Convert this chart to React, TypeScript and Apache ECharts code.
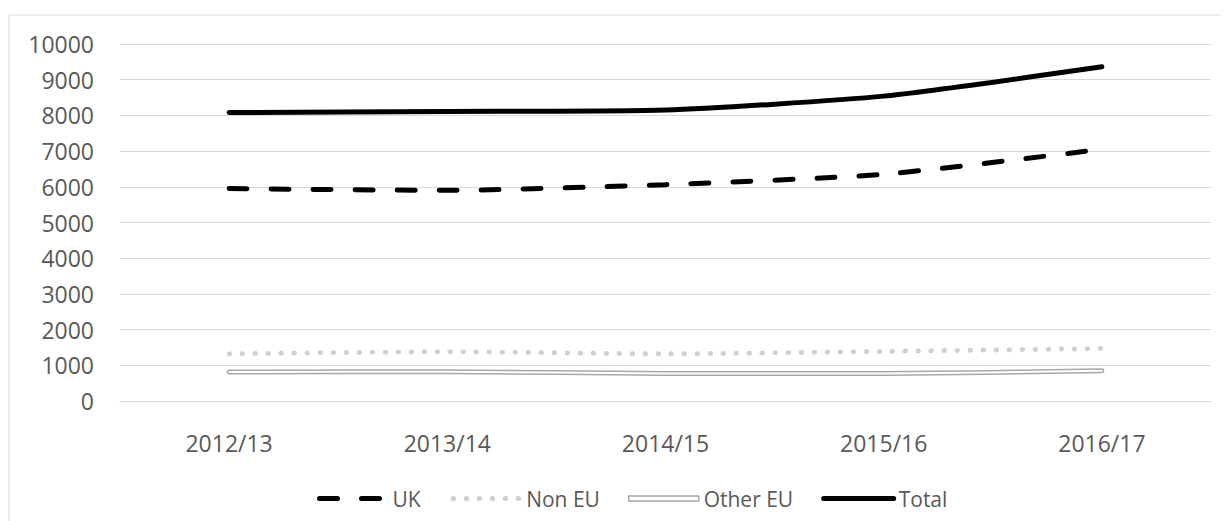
import React, { useEffect, useRef } from "react";
import * as echarts from "echarts";

const categories = ["2012/13", "2013/14", "2014/15", "2015/16", "2016/17"];
const ukValues = [5950, 5900, 6060, 6350, 7050];
const nonEuValues = [1320, 1380, 1320, 1390, 1470];
const otherEuValues = [810, 820, 770, 770, 850];
const totalValues = [8080, 8110, 8150, 8540, 9360];
const yMin = 0;
const yMax = 10000;
const yInterval = 1000;

const FONT = "'Open Sans', sans-serif";
const TEXT = "#595959";
const GRID = "#d9d9d9";

export default function App() {
  const ref = useRef<HTMLDivElement>(null);
  useEffect(() => {
    if (!ref.current) return;
    const chart = echarts.init(ref.current, undefined, { renderer: "svg" });
    chart.setOption({
      animation: false,
      backgroundColor: "#fff",
      textStyle: { fontFamily: FONT },
      graphic: [
        {
          type: "rect",
          shape: { x: 1, y: 7, width: 1400, height: 700 },
          style: { fill: "none", stroke: GRID, lineWidth: 1 },
          silent: true,
        },
      ],
      grid: { left: 112, right: 17, top: 36, bottom: 120, containLabel: false },
      xAxis: {
        type: "category",
        data: categories,
        boundaryGap: true,
        axisLine: { show: true, lineStyle: { color: GRID, width: 1 } },
        axisTick: { show: false },
        axisLabel: { color: TEXT, fontSize: 23, fontFamily: FONT, margin: 30 },
      },
      yAxis: {
        type: "value",
        min: yMin,
        max: yMax,
        interval: yInterval,
        axisLine: { show: false },
        axisTick: { show: false },
        splitLine: { lineStyle: { color: GRID, width: 1 } },
        axisLabel: {
          color: TEXT,
          fontSize: 23,
          fontFamily: FONT,
          margin: 26,
          formatter: (v: number) => String(v),
        },
      },
      legend: {
        left: 302,
        top: 475,
        itemWidth: 70,
        itemHeight: 14,
        itemGap: 28,
        lineStyle: { width: 5, cap: "round" },
        textStyle: { color: TEXT, fontSize: 21, fontFamily: FONT },
        data: [
          { name: "UK", itemStyle: { opacity: 0 }, lineStyle: { dashOffset: -2.5 } },
          { name: "Non EU", itemStyle: { opacity: 0 }, lineStyle: { dashOffset: -2.5 } },
          {
            name: "Other EU",
            icon: "path://M0,0M70,14M0,4.5H70V9.5H0Z",
            itemStyle: { color: "#fff", borderColor: "#a6a6a6", borderWidth: 1.5, opacity: 1 },
          },
          { name: "Total", itemStyle: { opacity: 0 } },
        ],
      },
      series: [
        {
          name: "UK",
          type: "line",
          data: ukValues,
          symbol: "none",
          smooth: 0.2,
          lineStyle: { color: "#000", width: 5, type: [18, 24], cap: "round" },
          itemStyle: { color: "#000" },
        },
        {
          name: "Non EU",
          type: "line",
          data: nonEuValues,
          symbol: "none",
          smooth: 0.2,
          lineStyle: { color: "#d0d0d0", width: 5, type: [0.5, 12.5], cap: "round" },
          itemStyle: { color: "#d0d0d0" },
        },
        {
          name: "Other EU",
          type: "line",
          data: otherEuValues,
          symbol: "none",
          smooth: 0.2,
          lineStyle: { color: "#a6a6a6", width: 5, cap: "round" },
          itemStyle: { color: "#a6a6a6" },
        },
        {
          name: "Other EU inner",
          type: "line",
          data: otherEuValues,
          symbol: "none",
          smooth: 0.2,
          lineStyle: { color: "#fff", width: 2, cap: "round" },
          itemStyle: { color: "#fff" },
          silent: true,
        },
        {
          name: "Total",
          type: "line",
          data: totalValues,
          symbol: "none",
          smooth: 0.2,
          lineStyle: { color: "#000", width: 5, cap: "round" },
          itemStyle: { color: "#000" },
        },
      ],
    });
    return () => chart.dispose();
  }, []);
  return <div ref={ref} style={{ width: 1220, height: 513 }} />;
}
